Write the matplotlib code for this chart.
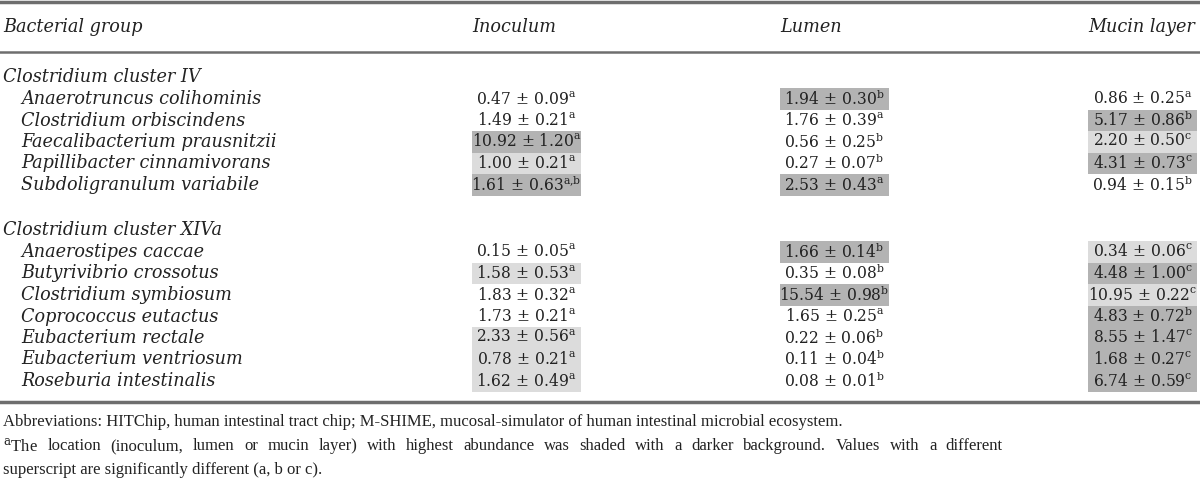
import matplotlib
matplotlib.use("Agg")
import matplotlib.pyplot as plt
from matplotlib.patches import Rectangle

plt.rcParams['font.family'] = ['DejaVu Serif']
plt.rcParams['mathtext.fontset'] = 'dejavuserif'

# --- table data ---
col_headers = ["Inoculum", "Lumen", "Mucin layer"]
group_names = ["Clostridium cluster IV", "Clostridium cluster XIVa"]

species_iv = ["Anaerotruncus colihominis", "Clostridium orbiscindens",
              "Faecalibacterium prausnitzii", "Papillibacter cinnamivorans",
              "Subdoligranulum variabile"]
species_xiva = ["Anaerostipes caccae", "Butyrivibrio crossotus",
                "Clostridium symbiosum", "Coprococcus eutactus",
                "Eubacterium rectale", "Eubacterium ventriosum",
                "Roseburia intestinalis"]

# mean, sd, superscript, shade (0 none, 1 light, 2 dark) per column
inoc_mean = [0.47, 1.49, 10.92, 1.00, 1.61, 0.15, 1.58, 1.83, 1.73, 2.33, 0.78, 1.62]
inoc_sd = [0.09, 0.21, 1.20, 0.21, 0.63, 0.05, 0.53, 0.32, 0.21, 0.56, 0.21, 0.49]
inoc_sup = ["a", "a", "a", "a", "a,b", "a", "a", "a", "a", "a", "a", "a"]
inoc_shade = [0, 0, 2, 1, 2, 0, 1, 0, 0, 1, 1, 1]

lumen_mean = [1.94, 1.76, 0.56, 0.27, 2.53, 1.66, 0.35, 15.54, 1.65, 0.22, 0.11, 0.08]
lumen_sd = [0.30, 0.39, 0.25, 0.07, 0.43, 0.14, 0.08, 0.98, 0.25, 0.06, 0.04, 0.01]
lumen_sup = ["b", "a", "b", "b", "a", "b", "b", "b", "a", "b", "b", "b"]
lumen_shade = [2, 0, 0, 0, 2, 2, 0, 2, 0, 0, 0, 0]

mucin_mean = [0.86, 5.17, 2.20, 4.31, 0.94, 0.34, 4.48, 10.95, 4.83, 8.55, 1.68, 6.74]
mucin_sd = [0.25, 0.86, 0.50, 0.73, 0.15, 0.06, 1.00, 0.22, 0.72, 1.47, 0.27, 0.59]
mucin_sup = ["a", "b", "c", "c", "b", "c", "c", "c", "b", "c", "c", "c"]
mucin_shade = [0, 2, 1, 2, 0, 1, 2, 1, 2, 2, 2, 2]

footnotes = [
    "Abbreviations: HITChip, human intestinal tract chip; M-SHIME, mucosal-simulator of human intestinal microbial ecosystem.",
    "$^{\\mathrm{a}}$The location (inoculum, lumen or mucin layer) with highest abundance was shaded with a darker background. Values with a different",
    "superscript are significantly different (a, b or c).",
]
justify = [False, True, False]

# --- layout (pixel coords) ---
W, H = 1200, 480
col_left = [472, 780, 1088]
box_w = 109
shade_col = {1: "#dcdcdc", 2: "#b3b3b3"}
txt_col = "#222222"
rule_col = "#6e6e6e"
fs_it = 12.7
fs_val = 11.2
fs_note = 12
row_h = 21.5
note_w = 1003

fig = plt.figure(figsize=(12, 4.8), dpi=100)
ax = fig.add_axes([0, 0, 1, 1])
ax.set_xlim(0, W)
ax.set_ylim(H, 0)
ax.axis("off")

# rules
ax.plot([0, W], [2, 2], color=rule_col, lw=2.5)
ax.plot([0, W], [52, 52], color=rule_col, lw=1.8)
ax.plot([0, W], [402, 402], color=rule_col, lw=2.5)

ax.text(3, 27, "Bacterial group", style="italic", fontsize=fs_it, color=txt_col, va="center")
for h, x in zip(col_headers, col_left):
    ax.text(x, 27, h, style="italic", fontsize=fs_it, color=txt_col, va="center", ha="left")

cols = [(inoc_mean, inoc_sd, inoc_sup, inoc_shade),
        (lumen_mean, lumen_sd, lumen_sup, lumen_shade),
        (mucin_mean, mucin_sd, mucin_sup, mucin_shade)]

group_y = [77, 230]
species_lists = [species_iv, species_xiva]
idx = 0
for g, gy, sp_list in zip(group_names, group_y, species_lists):
    ax.text(3, gy, g, style="italic", fontsize=fs_it, color=txt_col, va="center")
    for j, sp in enumerate(sp_list):
        y = gy + 22 + j * row_h
        ax.text(21, y, sp, style="italic", fontsize=fs_it, color=txt_col, va="center")
        for c, (means, sds, sups, shades) in enumerate(cols):
            if shades[idx]:
                ax.add_patch(Rectangle((col_left[c], y - row_h / 2), box_w, row_h,
                                       fc=shade_col[shades[idx]], ec="none", zorder=0))
            sup = sups[idx].replace(",", "{,}")
            s = f"{means[idx]:.2f} ± {sds[idx]:.2f}$^{{\\mathrm{{{sup}}}}}$"
            ax.text(col_left[c] + box_w / 2, y, s, fontsize=fs_val, color=txt_col,
                    va="center", ha="center")
        idx += 1

# footnotes (second one is justified like the printed paragraph)
renderer = fig.canvas.get_renderer()
for k, (line, just) in enumerate(zip(footnotes, justify)):
    y = 422 + k * 24
    kw = dict(fontsize=fs_note, family="Liberation Serif", color=txt_col, va="center")
    if not just:
        ax.text(3, y, line, **kw)
        continue
    words = line.split(" ")
    widths = []
    for wd in words:
        t = ax.text(0, 0, wd, **kw)
        widths.append(t.get_window_extent(renderer).width)
        t.remove()
    gap = (note_w - 3 - sum(widths)) / (len(words) - 1)
    x = 3
    for wd, wdt in zip(words, widths):
        ax.text(x, y, wd, **kw)
        x += wdt + gap

fig.savefig("out.png", dpi=100)
